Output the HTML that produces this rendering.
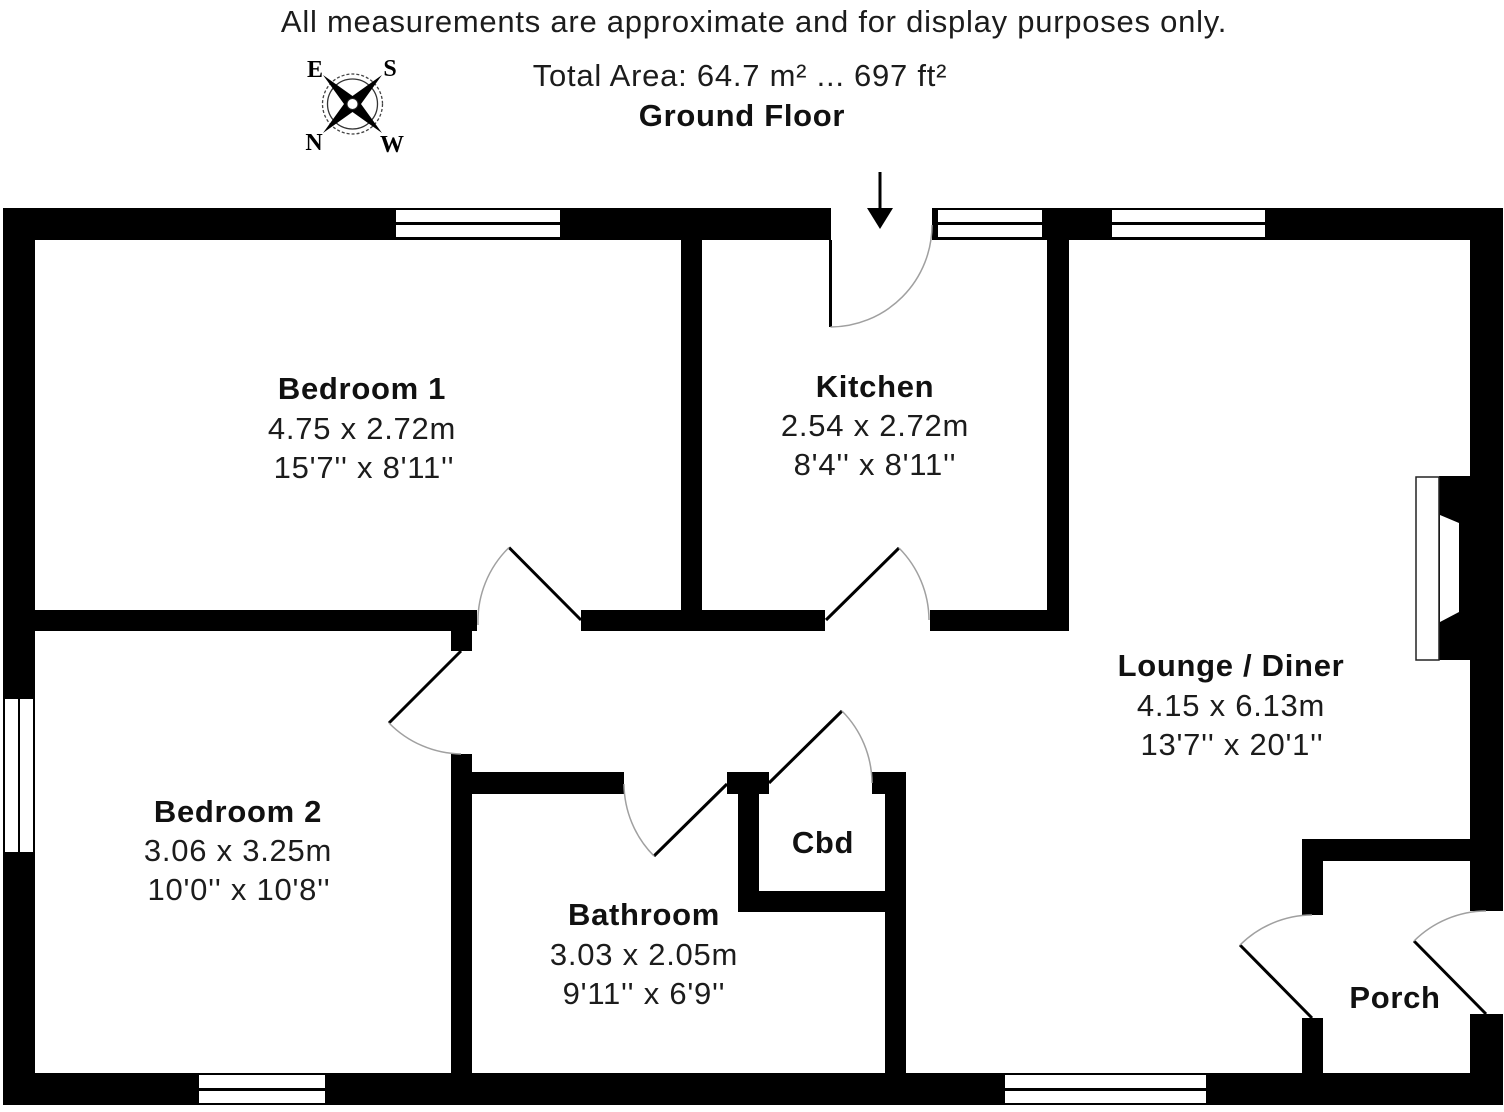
<!DOCTYPE html>
<html>
<head>
<meta charset="utf-8">
<style>
html,body{margin:0;padding:0;background:#fff;width:1504px;height:1112px;overflow:hidden}
svg{display:block}
text{font-family:"Liberation Sans",Arial,sans-serif;font-size:31px;letter-spacing:.75px;fill:#1c1c1c;text-anchor:middle}
.b{font-weight:bold;fill:#111;letter-spacing:.7px}
.c{font-family:"Liberation Serif",serif;font-weight:bold;font-size:24px;letter-spacing:0;fill:#000}
.leaf{stroke:#000;stroke-width:3;fill:none}
.arc{stroke:#a0a0a0;stroke-width:1.5;fill:none}
</style>
</head>
<body>
<svg width="1504" height="1112" viewBox="0 0 1504 1112" xmlns="http://www.w3.org/2000/svg">
<rect width="1504" height="1112" fill="#fff"/>

<!-- Outer walls -->
<g fill="#000">
<rect x="3" y="208" width="828" height="32"/>
<rect x="932" y="208" width="571" height="32"/>
<rect x="3" y="208" width="32" height="897"/>
<rect x="3" y="1073" width="1500" height="32"/>
<rect x="1470" y="208" width="33" height="703"/>
<rect x="1470" y="1014" width="33" height="91"/>
<!-- Interior -->
<rect x="681" y="240" width="21" height="380"/>
<rect x="1047" y="240" width="22" height="391"/>
<rect x="35" y="610" width="442" height="21"/>
<rect x="581" y="610" width="244" height="21"/>
<rect x="930" y="610" width="139" height="21"/>
<rect x="451" y="631" width="21" height="20"/>
<rect x="451" y="754" width="21" height="320"/>
<rect x="472" y="772" width="152" height="22"/>
<rect x="727" y="772" width="42" height="22"/>
<rect x="738" y="794" width="21" height="118"/>
<rect x="738" y="891" width="148" height="21"/>
<rect x="872" y="772" width="34" height="22"/>
<rect x="885" y="772" width="21" height="302"/>
<!-- Porch -->
<rect x="1302" y="839" width="170" height="22"/>
<rect x="1302" y="839" width="21" height="76"/>
<rect x="1302" y="1018" width="21" height="56"/>
<!-- Fireplace -->
<rect x="1439" y="476" width="32" height="184"/>
</g>
<rect x="1416" y="477" width="23" height="183" fill="#fff" stroke="#222" stroke-width="1.5"/>
<polygon points="1440,515 1459,523 1459,612 1440,622" fill="#fff"/>

<!-- Windows -->
<g fill="#fff">
<rect x="396" y="210" width="164" height="12"/><rect x="396" y="225" width="164" height="12"/>
<rect x="938" y="210" width="104" height="12"/><rect x="938" y="225" width="104" height="12"/>
<rect x="1112" y="210" width="153" height="12"/><rect x="1112" y="225" width="153" height="12"/>
<rect x="199" y="1075" width="126" height="13"/><rect x="199" y="1091" width="126" height="12"/>
<rect x="1005" y="1075" width="201" height="13"/><rect x="1005" y="1091" width="201" height="12"/>
<rect x="5" y="699" width="13" height="153"/><rect x="20" y="699" width="13" height="153"/>
</g>

<!-- Doors -->
<path class="leaf" d="M830.500 240V327"/>
<path class="arc" d="M830.500 327A102 102 0 0 0 932 225"/>
<path class="leaf" d="M581 620L509 547.500"/>
<path class="arc" d="M509 547.500A103 103 0 0 0 478 625"/>
<path class="leaf" d="M826 620L899 548"/>
<path class="arc" d="M899 548A103 103 0 0 1 929 620"/>
<path class="leaf" d="M461 651L389 723"/>
<path class="arc" d="M389 723A103 103 0 0 0 461 754"/>
<path class="leaf" d="M727 784L654 856"/>
<path class="arc" d="M654 856A103 103 0 0 1 624 784"/>
<path class="leaf" d="M769 783L842 711"/>
<path class="arc" d="M842 711A103 103 0 0 1 872 783"/>
<path class="leaf" d="M1312 1018L1240 945"/>
<path class="arc" d="M1240 945A103 103 0 0 1 1312 915"/>
<path class="leaf" d="M1486 1014L1414 941"/>
<path class="arc" d="M1414 941A103 103 0 0 1 1486 911"/>

<!-- Entry arrow -->
<path d="M880 172V210" stroke="#000" stroke-width="3"/>
<polygon points="867,208 893,208 880,229" fill="#000"/>

<!-- Compass -->
<circle cx="352.500" cy="104" r="30" fill="none" stroke="#444" stroke-width="1.300" stroke-dasharray="3 2"/>
<circle cx="352.500" cy="104" r="25" fill="none" stroke="#333" stroke-width="1.300"/>
<polygon points="323,75 352.500,96 382,75 361,104 382,133 352.500,112 323,133 344,104" fill="#000"/>
<circle cx="352.500" cy="104" r="5.500" fill="#fff" stroke="#222" stroke-width="1"/>
<text class="c" x="315" y="77">E</text>
<text class="c" x="390" y="76">S</text>
<text class="c" x="314" y="150">N</text>
<text class="c" x="392" y="152">W</text>

<!-- Header -->
<text x="754" y="32">All measurements are approximate and for display purposes only.</text>
<text x="740" y="86">Total Area: 64.7 m² ... 697 ft²</text>
<text class="b" x="742" y="126">Ground Floor</text>

<!-- Rooms -->
<text class="b" x="362" y="399">Bedroom 1</text>
<text x="362" y="439">4.75 x 2.72m</text>
<text x="364" y="478">15'7'' x 8'11''</text>

<text class="b" x="875" y="397">Kitchen</text>
<text x="875" y="436">2.54 x 2.72m</text>
<text x="875" y="475">8'4'' x 8'11''</text>

<text class="b" x="1231" y="676">Lounge / Diner</text>
<text x="1231" y="716">4.15 x 6.13m</text>
<text x="1232" y="755">13'7'' x 20'1''</text>

<text class="b" x="238" y="822">Bedroom 2</text>
<text x="238" y="861">3.06 x 3.25m</text>
<text x="239" y="900">10'0'' x 10'8''</text>

<text class="b" x="644" y="925">Bathroom</text>
<text x="644" y="965">3.03 x 2.05m</text>
<text x="644" y="1004">9'11'' x 6'9''</text>

<text class="b" x="823" y="853">Cbd</text>
<text class="b" x="1395" y="1008">Porch</text>
</svg>
</body>
</html>
